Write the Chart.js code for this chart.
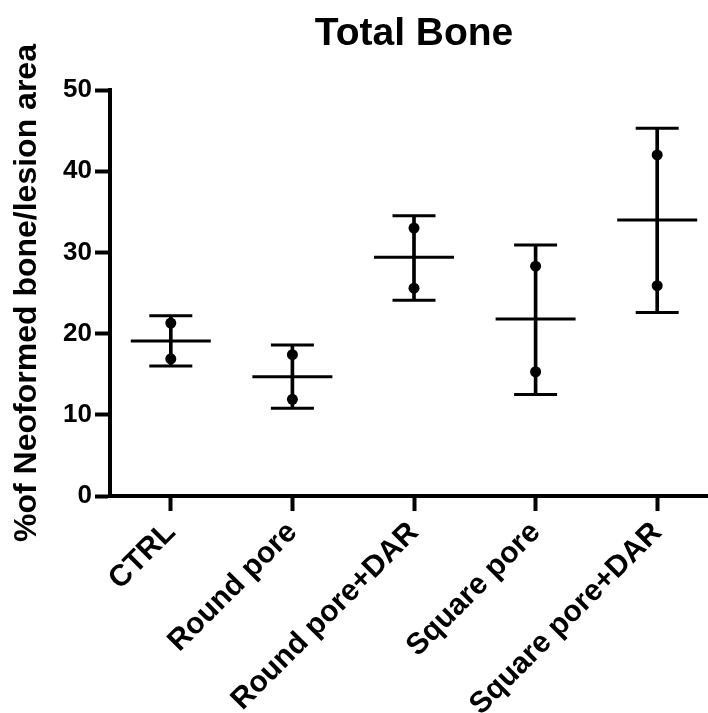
<!DOCTYPE html>
<html>
<head>
<meta charset="utf-8">
<script src="https://cdn.jsdelivr.net/npm/chart.js@4"></script>
<style>
  html, body { margin: 0; padding: 0; background: #fff; overflow: hidden; }
</style>
</head>
<body>
<canvas id="myChart" width="718" height="713"></canvas>
<script>
const categories = ['CTRL', 'Round pore', 'Round pore+DAR', 'Square pore', 'Square pore+DAR'];
const means = [19.1, 14.7, 29.4, 21.8, 34.0];
const sdHigh = [22.2, 18.6, 34.5, 30.9, 45.3];
const sdLow = [16.0, 10.8, 24.1, 12.5, 22.6];
const dotUpper = [21.3, 17.4, 33.0, 28.3, 42.0];
const dotLower = [16.9, 11.9, 25.6, 15.3, 25.9];
const yTicks = [0, 10, 20, 30, 40, 50];

const font = 'Liberation Sans, Arial, sans-serif';

// horizontal marks (mean line and error caps) drawn as 'line' point style
function hLine(data, radius) {
  return {
    type: 'line',
    data: data,
    showLine: false,
    pointStyle: 'line',
    pointRadius: radius,
    pointHoverRadius: radius,
    pointBorderWidth: 3,
    pointBorderColor: '#000',
    pointBackgroundColor: '#000',
  };
}

function dots(data) {
  return {
    type: 'line',
    data: data,
    showLine: false,
    pointStyle: 'circle',
    pointRadius: 5.5,
    pointHoverRadius: 5.5,
    pointBorderWidth: 0,
    pointBackgroundColor: '#000',
  };
}

var ctx = document.getElementById('myChart').getContext('2d');
let myChart = new Chart(ctx, {
  type: 'bar',
  data: {
    labels: categories,
    datasets: [
      {
        type: 'bar',
        data: sdLow.map((v, i) => [v, sdHigh[i]]),
        backgroundColor: '#000',
        barThickness: 3,
      },
      hLine(sdHigh, 21.5),
      hLine(sdLow, 21.5),
      hLine(means, 40),
      dots(dotUpper),
      dots(dotLower),
    ],
  },
  options: {
    responsive: false,
    animation: false,
    events: [],
    layout: { padding: 0, autoPadding: false },
    plugins: {
      legend: { display: false },
      tooltip: { enabled: false },
      title: {
        display: true,
        text: 'Total Bone',
        color: '#000',
        fullSize: false,
        font: { family: font, size: 39, weight: 'bold', lineHeight: 1.2 },
        padding: { top: 10.6, bottom: 32.6 },
      },
    },
    scales: {
      x: {
        offset: true,
        grid: {
          offset: false,
          drawOnChartArea: false,
          drawTicks: true,
          tickLength: 15,
          tickWidth: 4,
          tickColor: '#000',
        },
        border: { display: true, color: '#000', width: 4 },
        ticks: {
          color: '#000',
          font: { family: font, size: 30, weight: 'bold' },
          minRotation: 45,
          maxRotation: 45,
          autoSkip: false,
          padding: 4,
        },
        afterFit: (scale) => { scale.height = 217; },
      },
      y: {
        min: 0,
        max: 50,
        afterBuildTicks: (scale) => { scale.ticks = yTicks.map(v => ({ value: v })); },
        grid: {
          drawOnChartArea: false,
          drawTicks: true,
          tickLength: 15,
          tickWidth: 4,
          tickColor: '#000',
        },
        border: { display: true, color: '#000', width: 4 },
        ticks: {
          color: '#000',
          font: { family: font, size: 26, weight: 'bold' },
          padding: 3,
        },
        title: {
          display: true,
          text: '%of Neoformed bone/lesion area',
          color: '#000',
          font: { family: font, size: 32, weight: 'bold', lineHeight: 1.2 },
          padding: { top: 8, bottom: 0 },
        },
        afterFit: (scale) => { scale.width = 110; },
      },
    },
  },
});
</script>
</body>
</html>
